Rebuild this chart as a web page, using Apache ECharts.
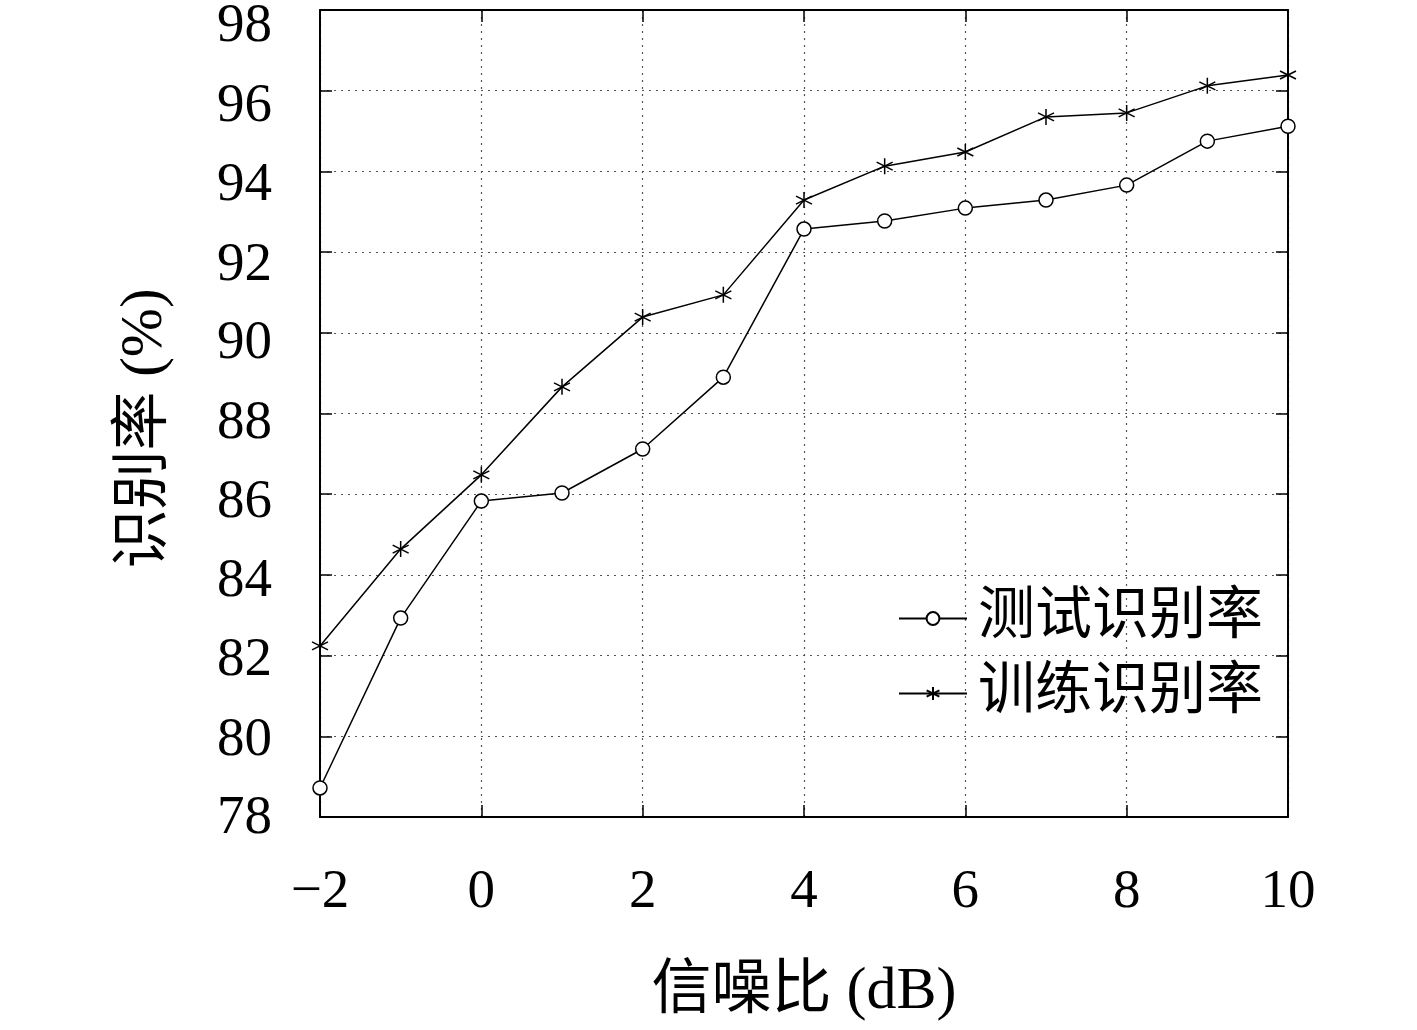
<!DOCTYPE html>
<html><head><meta charset="utf-8">
<script src="https://cdn.jsdelivr.net/npm/echarts@6/dist/echarts.min.js"></script>
<style>html,body{margin:0;padding:0;background:#fff}#c{width:1417px;height:1030px}</style>
</head><body><div id="c"></div>
<script>
const snr = [-2,-1,0,1,2,3,4,5,6,7,8,9,10];
const testRate = [78.72,82.93,85.83,86.03,87.12,88.9,92.57,92.77,93.09,93.29,93.66,94.75,95.12];
const trainRate = [82.24,84.64,86.48,88.66,90.39,90.94,93.29,94.13,94.48,95.35,95.45,96.12,96.39];
const seriesNames = ['测试识别率','训练识别率'];
const xTitle = '信噪比 (dB)';
const yTitle = '识别率 (%)';
const yTicks = [78,80,82,84,86,88,90,92,94,96,98];

const font = '"Liberation Serif","Noto Sans CJK SC",serif';
const star = 'path://M0,-10L0,10M-8.66,-5L8.66,5M-8.66,5L8.66,-5';
// label vertical shift (reference labels drift downward toward the top)
const yRich = {};
yTicks.forEach(v => {
  const off = Math.round(15 * (v - 78) / 20);
  yRich['t' + v] = {fontFamily:font,fontSize:55,color:'#000',padding:[off*2+4,0,0,0]};
});
const chart = echarts.init(document.getElementById('c'));
const axisCommon = {
  axisLine:{show:true,onZero:false,lineStyle:{color:'#000',width:2}},
  axisTick:{show:true,inside:true,length:12,lineStyle:{color:'#000',width:1.5}},
};
chart.setOption({
  animation:false,
  backgroundColor:'#fff',
  grid:{left:320,right:129,top:10,bottom:213,containLabel:false,outerBoundsMode:'none'},
  legend:{
    orient:'vertical', left:893, top:585, itemWidth:68, itemHeight:16, itemGap:18,
    textStyle:{fontFamily:font,fontSize:57,color:'#000',padding:[0,0,0,6]},
    data:seriesNames
  },
  xAxis:[{
    type:'value',min:-2,max:10,interval:2,...axisCommon,
    axisLabel:{fontFamily:font,fontSize:55,color:'#000',margin:48,
      formatter:v=>String(v).replace('-','\u2212')},
    splitLine:{show:true,lineStyle:{color:'#555',type:[2,5],width:1.2}},
    name:xTitle,nameLocation:'middle',nameGap:145,
    nameTextStyle:{fontFamily:font,fontSize:60,color:'#000'}
  },{
    type:'value',position:'top',min:-2,max:10,interval:2,...axisCommon,
    axisLabel:{show:false},splitLine:{show:false}
  }],
  yAxis:[{
    type:'value',min:78,max:98,interval:2,...axisCommon,
    axisLabel:{fontFamily:font,fontSize:55,color:'#000',margin:48,
      formatter:v=>'{t'+v+'|'+v+'}',rich:yRich},
    splitLine:{show:true,lineStyle:{color:'#555',type:[2,5],width:1.2}},
    name:yTitle,nameLocation:'middle',nameGap:145,
    nameTextStyle:{fontFamily:font,fontSize:59,color:'#000',padding:[0,30,0,0]}
  },{
    type:'value',position:'right',min:78,max:98,interval:2,...axisCommon,
    axisLabel:{show:false},splitLine:{show:false}
  }],
  series:[{
    name:seriesNames[0],type:'line',data:snr.map((x,i)=>[x,testRate[i]]),
    symbol:'circle',symbolSize:14,showAllSymbol:true,
    lineStyle:{color:'#000',width:1.5},
    itemStyle:{color:'#fff',borderColor:'#000',borderWidth:1.5}
  },{
    name:seriesNames[1],type:'line',data:snr.map((x,i)=>[x,trainRate[i]]),
    symbol:star,symbolSize:16,showAllSymbol:true,
    lineStyle:{color:'#000',width:1.5},
    itemStyle:{color:'none',borderColor:'#000',borderWidth:1.5}
  }]
});
</script></body></html>
